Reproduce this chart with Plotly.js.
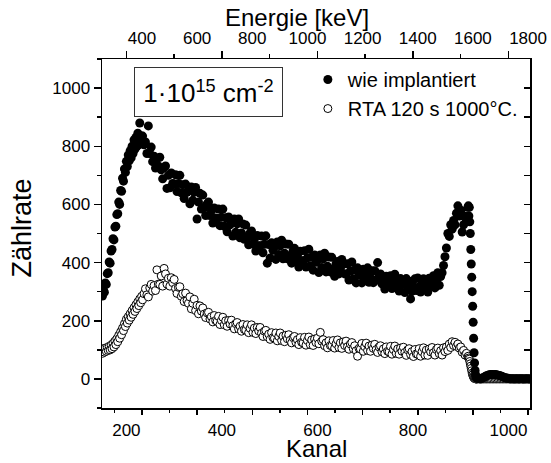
<!DOCTYPE html>
<html><head><meta charset="utf-8">
<script src="https://cdn.plot.ly/plotly-3.0.1.min.js"></script>
<style>html,body{margin:0;padding:0;background:#fff}#chart{width:551px;height:463px}</style>
</head><body><div id="chart"></div>
<script>
// Kanal-Abschnitte: [Start, Ende, Schritt]
const kanalAbschnitte = [[150, 232, 2], [234, 915, 3], [916, 934, 1], [936, 1044, 3]];

// Zählrate "wie implantiert" (gefüllte Kreise)
const wieImplantiert = [
  285, 305, 298, 330, 325, 362, 365, 402, 398, 440,
  445, 482, 478, 522, 525, 565, 568, 608, 600, 648,
  645, 690, 680, 722, 710, 748, 730, 770, 750, 785,
  760, 800, 775, 822, 790, 830, 800, 845, 805, 880,
  812, 835,
  835, 805,
  815, 775, 870, 775, 797, 747, 766, 725, 757, 732,
  762, 719, 688, 726, 732, 655, 700, 657, 708, 672,
  670, 702, 644, 672, 700, 640, 668, 620, 670, 642,
  648, 602, 660, 614, 642, 658, 550, 608, 638, 584,
  632, 590, 562, 602, 608, 562, 578, 536, 588, 553,
  552, 584, 527, 556, 584, 525, 554, 506, 557, 530,
  536, 491, 550, 504, 533, 550, 485, 502, 533, 480,
  529, 488, 461, 502, 509, 464, 481, 440, 493, 458,
  458, 491, 434, 463, 492, 398, 462, 416, 468, 442,
  454, 411, 471, 428, 458, 477, 413, 432, 464, 413,
  463, 424, 398, 441, 449, 406, 424, 385, 439, 406,
  406, 441, 385, 416, 446, 389, 419, 374, 426, 401,
  409, 366, 426, 383, 413, 432, 368, 387, 419, 368,
  418, 379, 353, 396, 404, 361, 379, 411, 394, 361,
  361, 396, 340, 371, 402, 344, 375, 330, 382, 357,
  364, 330, 377, 343, 367, 382, 332, 347, 372, 331,
  372, 340, 400, 354, 361, 327, 342, 309, 353, 326,
  327, 355, 311, 335, 360, 314, 339, 302, 345, 324,
  331, 297, 345, 311, 336, 275, 301, 317, 344, 304,
  347, 317, 299, 335, 344, 312, 329, 299, 346, 322,
  325, 355, 313, 338, 365, 322, 352, 365, 390, 420,
  450, 500, 490, 530, 515, 545, 530, 570, 595, 560,
  580, 505, 530, 560, 545, 590,
  595, 560, 590, 540, 500, 445, 395, 350, 300, 250, 195, 140, 90, 55, 30, 15, 8, 5, 3,
  2, 1, 0, 3, 5, 8, 11, 13, 14, 15, 15, 14, 15, 14, 13, 12, 10, 8, 6, 4,
  3, 2, 1, 0, 1, 0, 0, 1, 0, 0, 1, 0, 0, 0, 1, 0, 0
];

// Zählrate "RTA 120 s 1000°C" (offene Kreise)
const rta = [
  88, 104, 92, 106, 95, 108, 98, 112, 100, 116,
  104, 122, 110, 130, 118, 138, 128, 150, 140, 162,
  152, 175, 166, 190, 180, 205, 192, 214, 202, 224,
  212, 235, 222, 245, 232, 255, 242, 265, 252, 275,
  262, 284,
  272, 293,
  310, 289, 282, 313, 325, 302, 321, 304, 375, 326,
  325, 354, 319, 380, 361, 326, 346, 319, 348, 331,
  342, 311, 294, 315, 317, 284, 293, 266, 295, 269,
  260, 282, 241, 260, 274, 235, 253, 224, 251, 233,
  244, 223, 211, 227, 229, 206, 214, 196, 218, 201,
  198, 215, 187, 201, 212, 186, 200, 181, 201, 189,
  202, 183, 172, 190, 194, 172, 181, 164, 187, 170,
  168, 186, 159, 174, 186, 160, 175, 156, 177, 165,
  177, 157, 146, 164, 167, 145, 154, 136, 159, 142,
  140, 158, 131, 146, 158, 132, 147, 128, 150, 138,
  152, 133, 124, 142, 146, 126, 135, 118, 142, 126,
  124, 143, 116, 132, 144, 118, 134, 115, 137, 125,
  140, 121, 160, 130, 135, 114, 124, 107, 131, 115,
  114, 132, 106, 121, 134, 108, 124, 105, 127, 115,
  130, 111, 102, 120, 125, 104, 114, 97, 78, 105,
  103, 122, 95, 111, 123, 98, 113, 95, 116, 105,
  119, 101, 91, 110, 114, 94, 103, 87, 110, 95,
  93, 112, 85, 101, 113, 88, 103, 85, 106, 95,
  109, 91, 81, 100, 104, 84, 94, 77, 101, 86,
  85, 104, 78, 94, 107, 82, 99, 81, 103, 93,
  108, 90, 82, 101, 106, 87, 97, 82, 107, 94,
  110, 98, 120, 108, 128, 115, 126, 112, 120, 106,
  110, 92, 98, 82, 88, 76,
  78, 72, 68, 60, 52, 44, 36, 28, 20, 14, 9, 6, 3, 2, 1, 0, 0, 0, 0,
  0, 0, 0, 0, 0, 0, 0, 0, 0, 0, 0, 0, 0, 0, 0, 0, 0, 0, 0, 0,
  0, 0, 0, 0, 0, 0, 0, 0, 0, 0, 0, 0, 0, 0, 0, 0, 0
];

const kanalBereich = [149, 1045];
const energieBereich = [255, 1807];
const zaehlBereich = [-100, 1100];

const serienNamen = ['wie implantiert', 'RTA 120 s 1000°C.'];
const dosisText = '1·10<sup>15</sup> cm<sup>-2</sup>';
const titel = {x: 'Kanal', x2: 'Energie [keV]', y: 'Zählrate'};

const kanal = [];
for (const [a, b, s] of kanalAbschnitte) for (let k = a; k <= b; k += s) kanal.push(k);

const FONT = 'Liberation Sans, Arial, Helvetica, sans-serif';

const traces = [
  {x: kanal, y: rta, type: 'scatter', mode: 'markers', name: serienNamen[1], legendrank: 2,
   marker: {symbol: 'circle', size: 8, color: '#fff', line: {color: '#000', width: 1}}, hoverinfo: 'x+y'},
  {x: kanal, y: wieImplantiert, type: 'scatter', mode: 'markers', name: serienNamen[0], legendrank: 1,
   marker: {symbol: 'circle', size: 9, color: '#000', line: {width: 0}}, hoverinfo: 'x+y'},
  {x: [], y: [], xaxis: 'x2', yaxis: 'y', showlegend: false, hoverinfo: 'skip', type: 'scatter'},
  {x: [], y: [], xaxis: 'x3', yaxis: 'y', showlegend: false, hoverinfo: 'skip', type: 'scatter'},
  {x: [], y: [], xaxis: 'x4', yaxis: 'y', showlegend: false, hoverinfo: 'skip', type: 'scatter'},
  {x: [], y: [], xaxis: 'x', yaxis: 'y2', showlegend: false, hoverinfo: 'skip', type: 'scatter'}
];

const tickfont = {family: FONT, size: 17, color: '#000'};
const base = {showgrid: false, zeroline: false, fixedrange: true};

const layout = {
  width: 551, height: 463,
  margin: {l: 102, r: 21, t: 59, b: 55},
  paper_bgcolor: '#fff', plot_bgcolor: '#fff',
  font: {family: FONT, color: '#000'},
  showlegend: true,
  legend: {x: 0.481, xanchor: 'left', y: 0.997, yanchor: 'top', bgcolor: 'rgba(0,0,0,0)',
           font: {family: FONT, size: 20, color: '#000'}, traceorder: 'normal'},
  xaxis: Object.assign({}, base, {range: kanalBereich, tickmode: 'linear', tick0: 0, dtick: 200,
    ticks: 'outside', ticklen: 6, tickcolor: 'rgba(0,0,0,0)', showline: true, linecolor: '#000', linewidth: 1.5,
    tickfont: tickfont, anchor: 'y'}),
  xaxis2: Object.assign({}, base, {overlaying: 'x', side: 'top', anchor: 'y', range: energieBereich,
    tickmode: 'linear', tick0: 0, dtick: 200, ticks: 'outside', ticklen: 7, tickcolor: 'rgba(0,0,0,0)',
    showline: true, linecolor: '#000', linewidth: 1.5, tickfont: tickfont}),
  xaxis3: Object.assign({}, base, {overlaying: 'x', side: 'bottom', anchor: 'y', range: energieBereich,
    tickmode: 'linear', tick0: 0, dtick: 200, ticks: 'outside', ticklen: 6, tickwidth: 1.5, tickcolor: '#000',
    minor: {dtick: 100, tick0: 0, ticks: 'outside', ticklen: 4, tickwidth: 1.5, tickcolor: '#000'},
    showticklabels: false, showline: false}),
  xaxis4: Object.assign({}, base, {overlaying: 'x', side: 'top', anchor: 'y', range: kanalBereich,
    tickmode: 'linear', tick0: 0, dtick: 200, ticks: 'outside', ticklen: 7, tickwidth: 1.5, tickcolor: '#000',
    minor: {dtick: 100, tick0: 0, ticks: 'outside', ticklen: 4, tickwidth: 1.5, tickcolor: '#000'},
    showticklabels: false, showline: false}),
  yaxis: Object.assign({}, base, {range: zaehlBereich, tickmode: 'linear', tick0: 0, dtick: 200,
    ticks: 'outside', ticklen: 7, tickwidth: 1.5, tickcolor: '#000',
    minor: {dtick: 100, tick0: 0, ticks: 'outside', ticklen: 4, tickwidth: 1.5, tickcolor: '#000'},
    showline: true, linecolor: '#000', linewidth: 1.5, tickfont: tickfont, anchor: 'x'}),
  yaxis2: Object.assign({}, base, {overlaying: 'y', side: 'right', anchor: 'x', range: zaehlBereich,
    tickmode: 'linear', tick0: 0, dtick: 100, ticks: 'inside', ticklen: 6, tickwidth: 1.5, tickcolor: '#000',
    showline: true, linecolor: '#000', linewidth: 1.5, showticklabels: false}),
  annotations: [
    {text: titel.x, xref: 'paper', yref: 'paper', x: 0.502, y: -0.116, xanchor: 'center', yanchor: 'middle',
     showarrow: false, font: {family: FONT, size: 24, color: '#000'}},
    {text: titel.x2, xref: 'paper', yref: 'paper', x: 0.456, y: 1.118, xanchor: 'center', yanchor: 'middle',
     showarrow: false, font: {family: FONT, size: 24, color: '#000'}},
    {text: titel.y, xref: 'paper', yref: 'paper', x: -0.188, y: 0.516, xanchor: 'center', yanchor: 'middle',
     textangle: -90, showarrow: false, font: {family: FONT, size: 27, color: '#000'}},
    {text: dosisText, xref: 'paper', yref: 'paper', x: 0.2488, y: 0.9063, xanchor: 'center', yanchor: 'middle',
     showarrow: false, font: {family: FONT, size: 26, color: '#000'}, bordercolor: '#333', borderwidth: 1,
     borderpad: 1, width: 145, height: 46, bgcolor: '#fff'}
  ]
};

Plotly.newPlot('chart', traces, layout, {displayModeBar: false, staticPlot: true});
</script>
</body></html>
